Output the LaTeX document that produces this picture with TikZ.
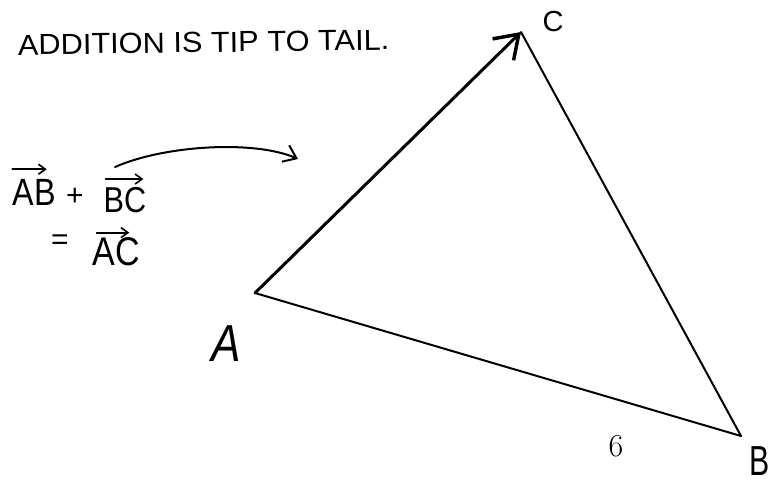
\documentclass[tikz,border=0pt]{standalone}
\usepackage{graphicx}
\usepackage{fontspec}
\newfontfamily\hand{Liberation Sans}
\usetikzlibrary{arrows.meta}
\begin{document}
\begin{tikzpicture}[x=1pt,y=-1pt,
  handtext/.style={font=\hand, inner sep=0pt},
  side/.style={line width=2pt, line cap=round},
  barb/.style={-{Straight Barb[length=22pt,width=30pt,line width=3.5pt]}},
  vecarrow/.style={line width=1.8pt, line cap=round, -{Straight Barb[length=7pt,width=10pt,line width=1.6pt]}}]
\useasboundingbox (0,0) rectangle (775,483);
% triangle
\coordinate (A) at (255,293);
\coordinate (B) at (741,436);
\coordinate (C) at (521,32);
\draw[side] (A) -- (B);
\draw[side] (B) -- (C);
\draw[side, line width=3pt, barb] (A) -- (C);
% vertex labels and number
\node[handtext, font=\hand\fontsize{52}{52}\selectfont\itshape] (la) at (226,344) {\scalebox{0.85}[1]{A}};
\node[handtext, font=\hand\fontsize{29}{29}\selectfont] (lc) at (553,22) {C};
\node[handtext, font=\hand\fontsize{42}{42}\selectfont] (lb) at (760,461) {\scalebox{0.72}[1]{B}};
\node[inner sep=0pt, font=\fontsize{32}{32}\selectfont] (six) at (616,446) {6};
% title
\node[handtext, anchor=base west, rotate=0.8, font=\hand\fontsize{29}{29}\selectfont] (title) at (18,55) {\scalebox{1.06}[1]{ADDITION IS TIP TO TAIL.}};
% equation
\node[handtext, font=\hand\fontsize{38}{38}\selectfont] (ab) at (34,192.5) {\scalebox{0.85}[1]{AB}};
\node[handtext, font=\hand\fontsize{30}{30}\selectfont] (plus) at (75,197) {+};
\node[handtext, font=\hand\fontsize{36}{36}\selectfont] (bc) at (125,200) {\scalebox{0.85}[1]{BC}};
\node[handtext, font=\hand\fontsize{30}{30}\selectfont] (eq) at (60,242) {=};
\node[handtext, font=\hand\fontsize{40}{40}\selectfont] (ac) at (116.5,252) {\scalebox{0.85}[1]{AC}};
\draw[vecarrow] ([yshift=10pt]ab.north west) -- ([xshift=-9pt,yshift=10pt]ab.north east);
\draw[vecarrow] ([xshift=2pt,yshift=8pt]bc.north west) -- ([xshift=-3pt,yshift=8pt]bc.north east);
\draw[vecarrow] ([xshift=4pt,yshift=5pt]ac.north west) -- ([xshift=-11pt,yshift=5pt]ac.north east);
% curved pointer arrow
\coordinate (s) at (115,167);
\coordinate (e) at (298,159);
\draw[line width=2pt, line cap=round, -{Straight Barb[length=12pt,width=18pt,line width=2pt]}] (s) .. controls (165,145) and (255,140) .. (e);
\end{tikzpicture}
\end{document}
